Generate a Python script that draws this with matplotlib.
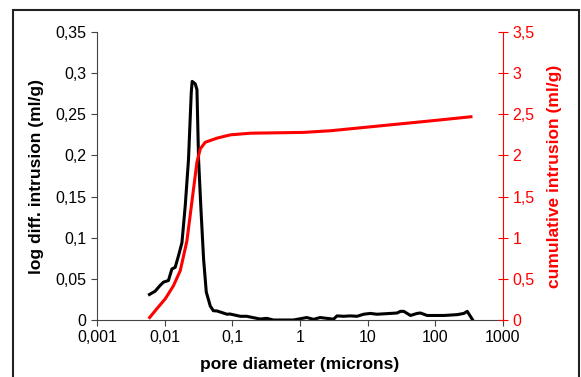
import numpy as np
import matplotlib
matplotlib.use("Agg")
import matplotlib.pyplot as plt
from matplotlib.ticker import FixedLocator, FuncFormatter
from matplotlib.patches import Rectangle

plt.rcParams['font.family'] = ['Liberation Sans', 'DejaVu Sans']

# log differential intrusion (ml/g) vs pore diameter (microns)
diff_d = [0.00596, 0.00722, 0.00857, 0.0096, 0.01137, 0.0128, 0.0143, 0.016, 0.018,
          0.0201, 0.0225, 0.0247, 0.0255, 0.0283, 0.030, 0.0317, 0.0344, 0.0376,
          0.0412, 0.0472, 0.0524, 0.0593, 0.0834, 0.092, 0.1314, 0.163, 0.257,
          0.323, 0.405, 0.80, 1.26, 1.58, 1.99, 3.13, 3.52, 4.41, 5.53, 6.95, 8.73,
          10.96, 13.7, 17.3, 21.7, 27.2, 30.5, 34.2, 42.9, 53.8, 60.3, 75.7, 134,
          210, 264, 296, 352]
diff_v = [0.031, 0.035, 0.042, 0.046, 0.048, 0.062, 0.064, 0.078, 0.094,
          0.138, 0.195, 0.276, 0.290, 0.287, 0.280, 0.195, 0.134, 0.074,
          0.034, 0.017, 0.0113, 0.0110, 0.007, 0.0073, 0.0045, 0.0045, 0.0012,
          0.002, 0.0, 0.0, 0.003, 0.0008, 0.003, 0.001, 0.005, 0.0045, 0.005, 0.0045, 0.007,
          0.008, 0.007, 0.0075, 0.008, 0.0085, 0.0105, 0.0105, 0.0055, 0.008, 0.0085, 0.0055, 0.0055,
          0.0065, 0.008, 0.0105, 0.0008]

# cumulative intrusion (ml/g)
cum_d = [0.006, 0.00766, 0.0102, 0.0135, 0.017, 0.0213, 0.0253, 0.030, 0.0336,
         0.0398, 0.0593, 0.0933, 0.185, 1.14, 2.83, 8.8, 27.5, 85.7, 336]
cum_v = [0.03, 0.137, 0.257, 0.417, 0.60, 0.96, 1.44, 1.92, 2.08,
         2.16, 2.21, 2.25, 2.27, 2.28, 2.30, 2.34, 2.38, 2.42, 2.47]

x_ticks = [0.001, 0.01, 0.1, 1, 10, 100, 1000]
x_labels = ['0,001', '0,01', '0,1', '1', '10', '100', '1000']

fig = plt.figure(figsize=(5.81, 3.77), dpi=100)
ax = fig.add_axes([97/581, 1-320/377, 406/581, 288/377])

ax.plot(diff_d, diff_v, color='black', lw=2.2)
ax.set_xscale('log')
ax.set_xlim(0.001, 1000)
ax.set_ylim(0, 0.35)
ax.xaxis.set_major_locator(FixedLocator(x_ticks))
ax.xaxis.set_minor_locator(FixedLocator([]))
ax.set_xticklabels(x_labels)
ax.yaxis.set_major_locator(FixedLocator(np.arange(0, 0.351, 0.05)))
ax.yaxis.set_major_formatter(FuncFormatter(lambda v, p: ('%g' % round(v, 2)).replace('.', ',')))
ax.tick_params(axis='both', labelsize=11.5, length=4, width=0.8, color='#444444')
ax.spines['top'].set_visible(False)
ax.spines['right'].set_visible(False)
for s in ['left', 'bottom']:
    ax.spines[s].set_color('#444444')
    ax.spines[s].set_linewidth(0.8)
ax.set_xlabel('pore diameter (microns)', fontsize=12.5, fontweight='bold', va='center')
ax.set_ylabel('log diff. intrusion (ml/g)', fontsize=12.5, fontweight='bold', va='center')
ax.xaxis.set_label_coords(0.5, (320-365)/288)
ax.yaxis.set_label_coords((37-97)/406, 0.5)

ax2 = ax.twinx()
ax2.plot(cum_d, cum_v, color='red', lw=2.2)
ax2.set_ylim(0, 3.5)
ax2.yaxis.set_major_locator(FixedLocator(np.arange(0, 3.51, 0.5)))
ax2.yaxis.set_major_formatter(FuncFormatter(lambda v, p: ('%g' % round(v, 1)).replace('.', ',')))
ax2.tick_params(axis='y', colors='red', labelsize=11.5, direction='inout', length=7, width=0.8)
for s in ['top', 'left', 'bottom']:
    ax2.spines[s].set_visible(False)
ax2.spines['right'].set_color('red')
ax2.spines['right'].set_linewidth(0.8)
ax2.set_ylabel('cumulative intrusion (ml/g)', fontsize=12.5, fontweight='bold', color='red', va='center')
ax2.yaxis.set_label_coords((555-97)/406, 0.5)

# outer chart border
fig.patches.append(Rectangle((13/581, -0.02), 566/581, 1 - 10/377 + 0.02, transform=fig.transFigure,
                             fill=False, edgecolor='#222222', lw=1.5))

fig.savefig('out.png', dpi=100)
